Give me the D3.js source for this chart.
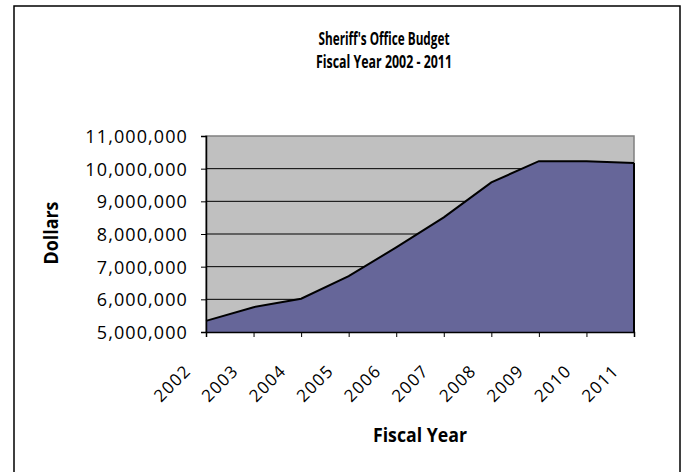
<!DOCTYPE html>
<html>
<head>
<meta charset="utf-8">
<script src="https://cdn.jsdelivr.net/npm/d3@7"></script>
<style>
  html, body { margin:0; padding:0; background:#fff; }
  svg { display:block; }
  text { font-family: "Open Sans", "Liberation Sans", sans-serif; fill:#000; }
  .narrow { font-family: "Liberation Sans Narrow", "Open Sans", sans-serif; }
</style>
</head>
<body>
<svg id="chart" width="686" height="472"></svg>
<script>
// datos
const years = ["2002","2003","2004","2005","2006","2007","2008","2009","2010","2011"];
const budget = [5340000, 5760000, 6020000, 6710000, 7590000, 8510000, 9580000, 10230000, 10230000, 10170000];
const yTicks = [5000000, 6000000, 7000000, 8000000, 9000000, 10000000, 11000000];

const svg = d3.select("#chart");
const plot = { left:206, right:634, top:136, bottom:332 };

// marco exterior
svg.append("rect")
  .attr("x", 14).attr("y", 6)
  .attr("width", 666).attr("height", 480)
  .attr("fill", "#fff")
  .attr("stroke", "#000")
  .attr("stroke-width", 1.5);

const x = d3.scalePoint().domain(years).range([plot.left, plot.right]);
const y = d3.scaleLinear().domain([5000000, 11000000]).range([plot.bottom, plot.top]);

// fondo del área de trazado
svg.append("rect")
  .attr("x", plot.left).attr("y", plot.top)
  .attr("width", plot.right - plot.left).attr("height", plot.bottom - plot.top)
  .attr("fill", "#c0c0c0")
  .attr("stroke", "#808080")
  .attr("stroke-width", 1.5);

// líneas de cuadrícula
svg.append("g")
  .selectAll("line")
  .data(yTicks.filter(v => v > 5000000 && v < 11000000))
  .enter().append("line")
  .attr("x1", plot.left).attr("x2", plot.right)
  .attr("y1", d => y(d)).attr("y2", d => y(d))
  .attr("stroke", "#000")
  .attr("stroke-width", 1);

const area = d3.area()
  .x((d, i) => x(years[i]))
  .y0(plot.bottom)
  .y1(d => y(d));

svg.append("path")
  .datum(budget)
  .attr("d", area)
  .attr("fill", "#666699")
  .attr("stroke", "none");

svg.append("path")
  .datum(budget)
  .attr("d", d3.line().x((d, i) => x(years[i])).y(d => y(d)))
  .attr("fill", "none")
  .attr("stroke", "#000")
  .attr("stroke-width", 2);

// borde derecho del área
svg.append("line")
  .attr("x1", plot.right).attr("x2", plot.right)
  .attr("y1", y(budget[budget.length - 1])).attr("y2", plot.bottom)
  .attr("stroke", "#000").attr("stroke-width", 2);

// eje Y
const yAxis = svg.append("g")
  .attr("transform", `translate(${plot.left},0)`)
  .call(d3.axisLeft(y).tickValues(yTicks).tickSize(5).tickPadding(13)
    .tickFormat(d3.format(",")));
yAxis.select(".domain").attr("stroke", "#000").attr("stroke-width", 1.5);
yAxis.selectAll(".tick line").attr("stroke", "#000");
yAxis.selectAll(".tick text")
  .style("font-size", "18px")
  .style("letter-spacing", "1.1px")
  .attr("dy", "0.36em");

// eje X
const xAxis = svg.append("g")
  .attr("transform", `translate(0,${plot.bottom})`)
  .call(d3.axisBottom(x).tickSize(5).tickFormat(""));
xAxis.select(".domain").attr("stroke", "#000").attr("stroke-width", 1.5);
xAxis.selectAll(".tick line").attr("stroke", "#000");

svg.append("g")
  .selectAll("text")
  .data(years)
  .enter().append("text")
  .attr("transform", d => `translate(${x(d) - 14},${plot.bottom + 40}) rotate(-45)`)
  .attr("text-anchor", "end")
  .style("font-size", "17px")
  .style("letter-spacing", "1.2px")
  .text(d => d);

// títulos
svg.append("text")
  .attr("class", "narrow")
  .attr("x", 384).attr("y", 45)
  .attr("text-anchor", "middle")
  .attr("textLength", 131).attr("lengthAdjust", "spacingAndGlyphs")
  .style("font-size", "17px").style("font-weight", "700")
  .text("Sheriff's Office Budget");

svg.append("text")
  .attr("class", "narrow")
  .attr("x", 384).attr("y", 68)
  .attr("text-anchor", "middle")
  .attr("textLength", 136).attr("lengthAdjust", "spacingAndGlyphs")
  .style("font-size", "17px").style("font-weight", "700")
  .text("Fiscal Year 2002 - 2011");

svg.append("text")
  .attr("class", "narrow")
  .attr("x", 420).attr("y", 442)
  .attr("text-anchor", "middle")
  .attr("textLength", 94).attr("lengthAdjust", "spacingAndGlyphs")
  .style("font-size", "19px").style("font-weight", "700")
  .text("Fiscal Year");

svg.append("text")
  .attr("class", "narrow")
  .attr("transform", "translate(58,233) rotate(-90)")
  .attr("text-anchor", "middle")
  .attr("textLength", 63).attr("lengthAdjust", "spacingAndGlyphs")
  .style("font-size", "19px").style("font-weight", "700")
  .text("Dollars");
</script>
</body>
</html>
